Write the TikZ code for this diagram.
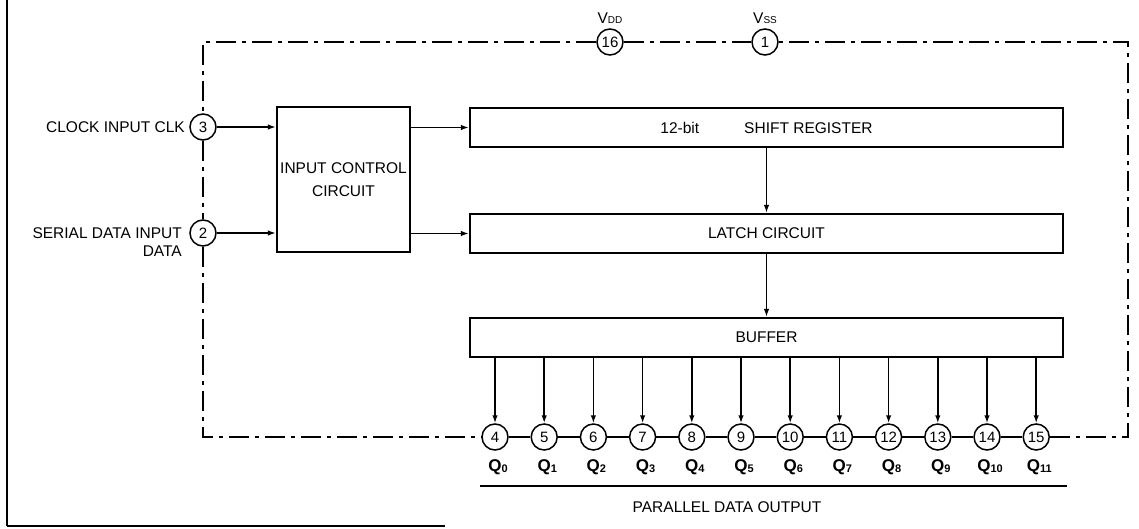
\documentclass[tikz,border=0pt]{standalone}
\usepackage{fontspec}
\setmainfont{Liberation Sans}
\usetikzlibrary{arrows.meta}
\newcommand{\qlab}[1]{Q\raisebox{-1.5pt}{\fontsize{11}{11}\selectfont #1}}
\newcommand{\vlab}[1]{V{\fontsize{10}{10}\selectfont #1}}
\begin{document}
\begin{tikzpicture}[x=1pt,y=-1pt,
  every node/.style={font=\fontsize{15.5}{18}\selectfont},
  blk/.style={draw, line width=2.2pt, inner sep=0pt},
  pin/.style={draw, circle, line width=1.5pt, minimum size=26pt, inner sep=0pt, font=\fontsize{15}{15}\selectfont},
  conn/.style={line width=1.5pt},
  arr/.style={conn, -{Latex[length=8pt,width=5.5pt]}},
  dd/.style={line width=1.5pt, dash pattern=on 20pt off 6pt on 4pt off 6pt},
  lbl/.style={inner sep=0pt}
]
\useasboundingbox (0,0) rectangle (1139,529);
% partial frame
\coordinate (f1) at (7,0);
\coordinate (f2) at (7,526);
\coordinate (f3) at (445,526);
\draw[line width=2.5pt] (f1) -- (f2);
\draw[line width=1.2pt] (f2) -- (f3);
% blocks
\node[blk, minimum width=133pt, minimum height=145pt, align=center, font=\fontsize{15.5}{23}\selectfont] (icc) at (343.5,179.5) {INPUT CONTROL\\CIRCUIT};
\node[blk, minimum width=593pt, minimum height=39pt] (sr) at (766.5,127.5) {12-bit\hspace{45pt}SHIFT REGISTER};
\node[blk, minimum width=593pt, minimum height=39pt] (lc) at (766.5,233.5) {LATCH CIRCUIT};
\node[blk, minimum width=593pt, minimum height=39pt] (buf) at (766.5,337.5) {BUFFER};
% pins
\node[pin] (p3) at (203,127) {3};
\node[pin] (p2) at (203,233) {2};
\node[pin] (p16) at (610,42) {16};
\node[pin] (p1) at (765,42) {1};
\foreach \n [count=\i from 0] in {4,...,15} {
  \node[pin] (p\n) at ({495+\i*49.2},437) {\n};
  \node[lbl, font=\fontsize{17}{18}\bfseries] (q\i) at ({498+\i*49.2},467) {\qlab{\i}};
}
% labels
\node[lbl, anchor=base east] (lclk) at (185,132.5) {CLOCK INPUT CLK};
\node[lbl, anchor=base east] (lser) at (182,238.5) {SERIAL DATA INPUT};
\node[lbl, anchor=base east] (ldat) at (182,256.5) {DATA};
\node[lbl] (lvdd) at (610,18) {\vlab{DD}};
\node[lbl] (lvss) at (765,18) {\vlab{SS}};
% dash-dot supply frame
\coordinate (tl) at (203,42);
\coordinate (tr) at (1128,42);
\coordinate (br) at (1128,437);
\coordinate (bl) at (203,437);
\draw[dd] (p16.west) -- (tl) -- (p3.north);
\draw[dd] (p3.south) -- (p2.north);
\draw[dd] (p2.south) -- (bl) -- (p4.west);
\draw[dd] (p15.east) -- (br) -- (tr) -- (p1.east);
\draw[dd] (p16.east) -- (p1.west);
\foreach \a/\b in {4/5,5/6,6/7,7/8,8/9,9/10,10/11,11/12,12/13,13/14,14/15}
  \draw[conn] (p\a.east) -- (p\b.west);
% signal arrows
\draw[arr] (p3.east) -- (p3.east -| icc.west);
\draw[arr] (p2.east) -- (p2.east -| icc.west);
\draw[arr] (icc.east |- sr.west) -- (sr.west);
\draw[arr] (icc.east |- lc.west) -- (lc.west);
\draw[arr] (sr.south) -- (lc.north);
\draw[arr] (lc.south) -- (buf.north);
\foreach \n in {4,...,15}
  \draw[arr] (buf.south -| p\n.north) -- (p\n.north);
% output bracket line
\coordinate (ul) at (480,486);
\coordinate (ur) at (1067,486);
\draw[conn] (ul) -- (ur);
\node (pdo) at (727,507) {PARALLEL DATA OUTPUT};
\end{tikzpicture}
\end{document}
